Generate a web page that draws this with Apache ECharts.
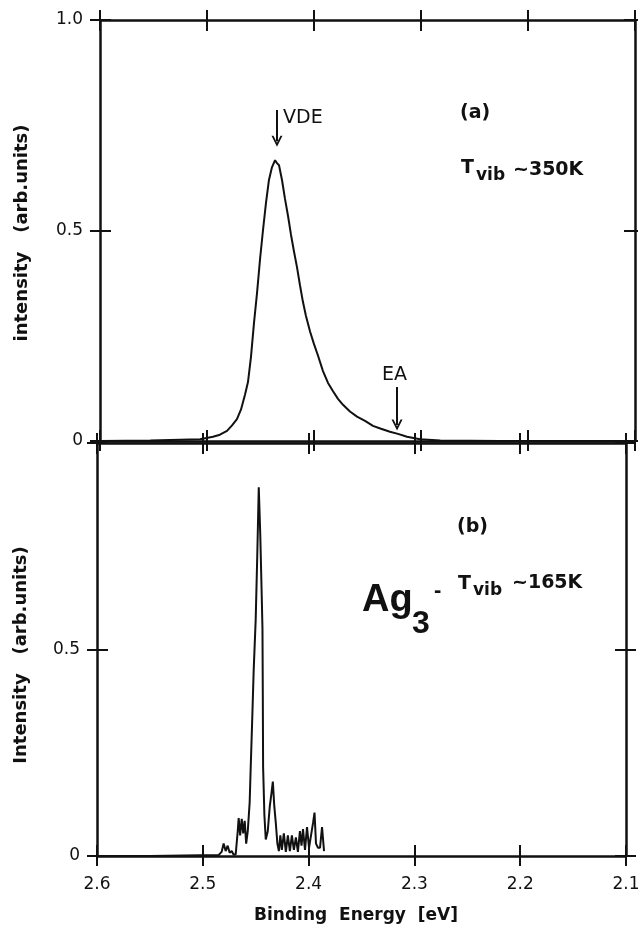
<!DOCTYPE html>
<html><head><meta charset="utf-8">
<script src="https://cdn.jsdelivr.net/npm/echarts@6/dist/echarts.min.js"></script>
<style>html,body{margin:0;padding:0;background:#fff}#c{width:638px;height:926px}</style>
</head><body><div id="c"></div>
<script>
// Panel (a): T_vib ~ 350 K
const energyA = [2.600,2.553,2.5065,2.4944,2.4879,2.4813,2.4766,2.4720,2.4682,2.4645,2.4617,2.4589,2.4561,2.4533,2.4505,2.4477,2.4449,2.4421,2.4393,2.4364,2.4346,2.4327,2.4299,2.4271,2.4243,2.4215,2.4187,2.4159,2.4131,2.4103,2.4075,2.4037,2.4000,2.3963,2.3916,2.3869,2.3822,2.3776,2.3729,2.3664,2.3598,2.3523,2.3449,2.3374,2.3290,2.3215,2.3131,2.3009,2.2820,2.2262,2.1000];
const intensityA = [0,0.001,0.004,0.010,0.015,0.024,0.037,0.052,0.075,0.110,0.140,0.200,0.280,0.350,0.430,0.500,0.565,0.620,0.650,0.667,0.660,0.655,0.620,0.575,0.535,0.490,0.450,0.413,0.370,0.330,0.297,0.260,0.230,0.203,0.166,0.138,0.118,0.100,0.086,0.070,0.058,0.048,0.036,0.029,0.022,0.017,0.010,0.004,0.001,0,0];
// Panel (b): T_vib ~ 165 K
const energyB = [2.600,2.5497,2.5022,2.4851,2.4822,2.4803,2.4784,2.4765,2.4746,2.4727,2.4708,2.4689,2.4670,2.4661,2.4647,2.4632,2.4618,2.4604,2.4590,2.4575,2.4557,2.4547,2.4533,2.4519,2.4500,2.4485,2.4471,2.4457,2.4443,2.4436,2.4433,2.4430,2.4418,2.4405,2.4386,2.4367,2.4352,2.4338,2.4324,2.4310,2.4295,2.4281,2.4267,2.4253,2.4234,2.4215,2.4196,2.4177,2.4158,2.4139,2.4120,2.4101,2.4082,2.4067,2.4053,2.4034,2.4015,2.3996,2.3977,2.3958,2.3944,2.3930,2.3911,2.3892,2.3873,2.3854];
const intensityB = [0,0,0.002,0.002,0.010,0.030,0.012,0.025,0.008,0.012,0.003,0.004,0.060,0.092,0.050,0.090,0.055,0.085,0.030,0.060,0.130,0.216,0.330,0.450,0.573,0.730,0.893,0.780,0.630,0.550,0.400,0.216,0.100,0.040,0.060,0.120,0.150,0.180,0.120,0.080,0.030,0.012,0.050,0.015,0.055,0.010,0.050,0.012,0.050,0.015,0.045,0.010,0.060,0.025,0.065,0.015,0.070,0.020,0.050,0.080,0.105,0.030,0.020,0.020,0.070,0.012];
const xTickLabels = ['2.6','2.5','2.4','2.3','2.2','2.1'];
const yTickLabels = ['0','0.5','1.0'];

const INK = '#111';
const FONT = 'DejaVu Sans';
const grids = [
  {left:100, top:20, width:535, height:421, outerBoundsMode:'none', containLabel:false},
  {left:97, top:443, width:529, height:413, outerBoundsMode:'none', containLabel:false}
];

function xAxes(g, withLabels){
  const base = {type:'value', gridIndex:g, min:2.1, max:2.6, interval:0.1, inverse:true,
    splitLine:{show:false}};
  const line = {show:true, onZero:false, lineStyle:{color:INK, width:2.5}};
  const noLine = {show:false, onZero:false};
  const tick = (inside)=>({show:true, inside, length: inside?11:10, lineStyle:{color:INK, width:2}});
  return [
    Object.assign({}, base, {position:'bottom', axisLine:line, axisTick:tick(false),
      axisLabel:{show:withLabels, margin:20, fontSize:17, fontFamily:FONT, color:INK,
        showMinLabel:true, showMaxLabel:true, hideOverlap:false,
        formatter:v=>{const i=Math.round((2.6-v)*10); return xTickLabels[i]||'';}}}),
    Object.assign({}, base, {position:'bottom', axisLine:noLine, axisTick:tick(true), axisLabel:{show:false}}),
    Object.assign({}, base, {position:'top', axisLine:line, axisTick:tick(false), axisLabel:{show:false}}),
    Object.assign({}, base, {position:'top', axisLine:noLine, axisTick:tick(true), axisLabel:{show:false}})
  ];
}
function yAxes(g, showTop){
  const base = {type:'value', gridIndex:g, min:0, max:1, interval:0.5, splitLine:{show:false}};
  const line = {show:true, onZero:false, lineStyle:{color:INK, width:2.5}};
  const noLine = {show:false, onZero:false};
  const tick = (inside)=>({show:true, inside, length: inside?11:10, lineStyle:{color:INK, width:2}});
  return [
    Object.assign({}, base, {position:'left', axisLine:line, axisTick:tick(false),
      axisLabel:{show:true, margin:17, fontSize:17, fontFamily:FONT, color:INK,
        showMinLabel:true, showMaxLabel:true,
        formatter:v=>{const i=Math.round(v*2); if(i===2 && !showTop) return ''; return yTickLabels[i]||'';}}}),
    Object.assign({}, base, {position:'left', axisLine:noLine, axisTick:tick(true), axisLabel:{show:false}}),
    Object.assign({}, base, {position:'right', axisLine:line, axisTick:tick(false), axisLabel:{show:false}}),
    Object.assign({}, base, {position:'right', axisLine:noLine, axisTick:tick(true), axisLabel:{show:false}})
  ];
}

const chevron = 'path://M0,10 L5,0 L10,10 L8.2,10 L5,3.6 L1.8,10 Z';
const T = (text, x, y, size, weight, extra) => Object.assign({
  type:'text', x, y, silent:true,
  style:{text, fontSize:size, fontWeight:weight||'normal', fontFamily:FONT, fill:INK,
    align:'left', verticalAlign:'middle'}
}, extra||{});

const chart = echarts.init(document.getElementById('c'), null, {renderer:'canvas'});
chart.setOption({
  animation:false,
  backgroundColor:'#fff',
  grid: grids,
  xAxis: [...xAxes(0,false), ...xAxes(1,true)],
  yAxis: [...yAxes(0,true), ...yAxes(1,false)],
  series: [
    {type:'line', xAxisIndex:0, yAxisIndex:0, showSymbol:false, symbol:'none',
      data: energyA.map((e,i)=>[e,intensityA[i]]),
      lineStyle:{color:INK, width:2},
      markLine:{silent:true, symbol:['none', chevron], symbolSize:[11,11],
        lineStyle:{color:INK, width:2, type:'solid'}, label:{show:false},
        data:[
          [{coord:[2.4346,0.786]},{coord:[2.4346,0.712]}],
          [{coord:[2.3224,0.128]},{coord:[2.3224,0.038]}]
        ]}
    },
    {type:'line', xAxisIndex:4, yAxisIndex:4, showSymbol:false, symbol:'none',
      data: energyB.map((e,i)=>[e,intensityB[i]]),
      lineStyle:{color:INK, width:2}}
  ],
  graphic: [
    T('VDE', 283, 118, 19),
    T('(a)', 460, 113, 19, 'bold'),
    T('T', 461, 168, 19, 'bold'),
    T('vib', 476, 176, 17, 'bold'),
    T('~350K', 513, 170, 19, 'bold'),
    T('EA', 382, 375, 19),
    T('(b)', 457, 527, 19, 'bold'),
    {type:'text', x:362, y:601, silent:true, style:{text:'Ag', fontSize:38, fontWeight:'bold', fontFamily:'Liberation Sans', fill:INK, align:'left', verticalAlign:'middle'}},
    {type:'text', x:412, y:624, silent:true, style:{text:'3', fontSize:32, fontWeight:'bold', fontFamily:'Liberation Sans', fill:INK, align:'left', verticalAlign:'middle'}},
    {type:'text', x:434, y:591, silent:true, style:{text:'-', fontSize:22, fontWeight:'bold', fontFamily:'Liberation Sans', fill:INK, align:'left', verticalAlign:'middle'}},
    T('T', 458, 584, 19, 'bold'),
    T('vib', 473, 591, 17, 'bold'),
    T('~165K', 512, 583, 19, 'bold'),
    {type:'text', x:22, y:233, rotation:Math.PI/2, silent:true, style:{text:'intensity   (arb.units)', fontSize:18, fontWeight:'bold', fontFamily:FONT, fill:INK, align:'center', verticalAlign:'middle'}},
    {type:'text', x:21, y:655, rotation:Math.PI/2, silent:true, style:{text:'Intensity   (arb.units)', fontSize:18, fontWeight:'bold', fontFamily:FONT, fill:INK, align:'center', verticalAlign:'middle'}},
    {type:'text', x:356, y:916, silent:true, style:{text:'Binding  Energy  [eV]', fontSize:17, fontWeight:'bold', fontFamily:FONT, fill:INK, align:'center', verticalAlign:'middle'}}
  ]
});
</script></body></html>
